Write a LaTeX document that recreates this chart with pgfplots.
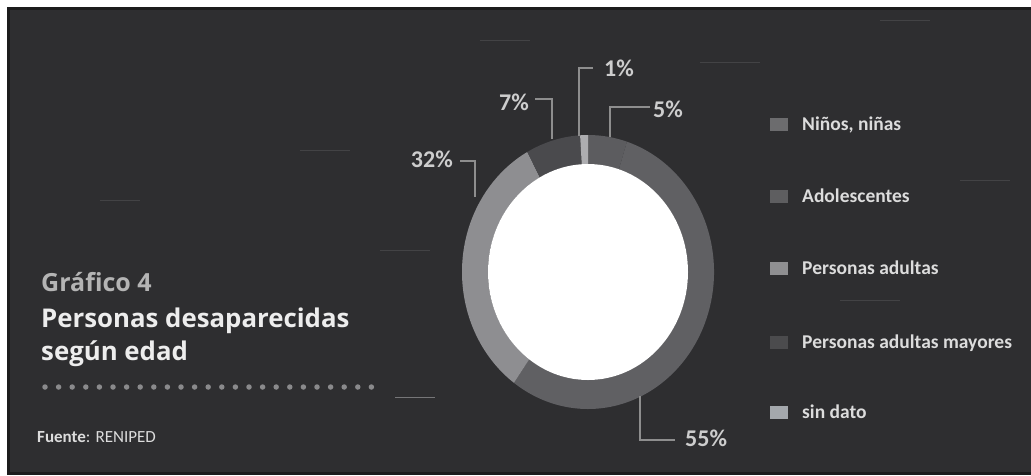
\documentclass[border=0pt]{standalone}
\usepackage{pgfplots}
\pgfplotsset{compat=1.18}
\usepackage{pgfplotstable}
\usepackage{fontspec}
\setmainfont{Carlito}
\newfontfamily\titlefont{Open Sans}

\definecolor{bg}{HTML}{2E2E30}
\definecolor{frame}{HTML}{1C1C1D}
\definecolor{rNin}{HTML}{5C5C5F}
\definecolor{rAdo}{HTML}{606063}
\definecolor{rAdu}{HTML}{8E8E91}
\definecolor{rMay}{HTML}{4A4A4D}
\definecolor{rSin}{HTML}{ADADB0}
\definecolor{lNin}{HTML}{6C6C6E}
\definecolor{lAdo}{HTML}{5E5E60}
\definecolor{lAdu}{HTML}{8F8F91}
\definecolor{lMay}{HTML}{4B4B4D}
\definecolor{lSin}{HTML}{A4A8AC}
\definecolor{legtext}{HTML}{DCDCDC}
\definecolor{pcttext}{HTML}{CDCDCD}
\definecolor{leader}{HTML}{8E8E8E}
\definecolor{titlegray}{HTML}{B4B4B4}
\definecolor{titlewhite}{HTML}{EDEDED}
\definecolor{dotc}{HTML}{8A8A8C}

% slices: share (%), ring colour, legend colour, legend row (px from top),
% label position (px) and label anchor
\pgfplotstableread[col sep=semicolon]{
label;value;ring;leg;row;lx;ly;anc
Niños, niñas;5;rNin;lNin;124;653;117;west
Adolescentes;55;rAdo;lAdo;196;685;446;west
Personas adultas;32;rAdu;lAdu;268;453;167;east
Personas adultas mayores;7;rMay;lMay;342;529;110;east
sin dato;1;rSin;lSin;412;604;76;west
}\slices

\begin{document}
\begin{tikzpicture}
\begin{axis}[
  scale only axis, width=1031pt, height=475pt,
  xmin=0, xmax=1031, ymin=0, ymax=475, y dir=reverse,
  axis lines=none, ticks=none, clip=false]

% background and frame
\fill[white] (axis cs:0,0) rectangle (axis cs:1031,475);
\fill[frame] (axis cs:7,7) rectangle (axis cs:1031,475);
\fill[bg] (axis cs:10,10) rectangle (axis cs:1031,472);

% faint scan streaks
\begin{scope}[draw=white, opacity=0.10, line width=1pt]
\draw (axis cs:480,40) -- (axis cs:530,40);
\draw (axis cs:700,62) -- (axis cs:760,62);
\draw (axis cs:880,20) -- (axis cs:930,20);
\draw (axis cs:300,150) -- (axis cs:350,150);
\draw (axis cs:380,250) -- (axis cs:430,250);
\draw (axis cs:840,300) -- (axis cs:900,300);
\draw (axis cs:100,200) -- (axis cs:140,200);
\draw (axis cs:960,180) -- (axis cs:1010,180);
\end{scope}
\draw[white, opacity=0.35, line width=1pt] (axis cs:395,397) -- (axis cs:435,397);
\draw[white, opacity=0.35, line width=1pt] (axis cs:655,199) -- (axis cs:695,199);

% donut ring
\def\astart{90}
\pgfplotsforeachungrouped \i in {0,...,4}{%
  \pgfplotstablegetelem{\i}{value}\of\slices \let\v\pgfplotsretval
  \pgfplotstablegetelem{\i}{ring}\of\slices \let\rc\pgfplotsretval
  \pgfmathsetmacro\aend{\astart-3.6*\v}%
  \edef\cmd{\noexpand\fill[\rc, shift={(axis cs:588,272)}]
    (\astart:126pt and 137pt)
    arc[start angle=\astart, end angle=\aend, x radius=126pt, y radius=137pt]
    -- (\aend:100pt and 108pt)
    arc[start angle=\aend, end angle=\astart, x radius=100pt, y radius=108pt]
    -- cycle;}%
  \cmd
  \let\astart\aend
}
\fill[white] (axis cs:588,272) ellipse [x radius=100pt, y radius=108pt];

% leader lines
\begin{scope}[draw=leader, line width=1.3pt]
\draw (axis cs:610,137) -- (axis cs:610,107) -- (axis cs:650,107);
\draw (axis cs:640,396) -- (axis cs:640,440) -- (axis cs:675,440);
\draw (axis cs:460,161) -- (axis cs:475,161) -- (axis cs:475,197);
\draw (axis cs:535,99) -- (axis cs:552,99) -- (axis cs:552,139);
\draw (axis cs:579,136) -- (axis cs:579,68) -- (axis cs:593,68);
\end{scope}

% percentage labels and legend
\pgfplotsforeachungrouped \i in {0,...,4}{%
  \pgfplotstablegetelem{\i}{value}\of\slices \let\v\pgfplotsretval
  \pgfplotstablegetelem{\i}{lx}\of\slices \let\lx\pgfplotsretval
  \pgfplotstablegetelem{\i}{ly}\of\slices \let\ly\pgfplotsretval
  \pgfplotstablegetelem{\i}{anc}\of\slices \let\an\pgfplotsretval
  \pgfplotstablegetelem{\i}{leg}\of\slices \let\lc\pgfplotsretval
  \pgfplotstablegetelem{\i}{row}\of\slices \let\r\pgfplotsretval
  \pgfplotstablegetelem{\i}{label}\of\slices \let\lab\pgfplotsretval
  \pgfmathsetmacro\ya{\r-6.5}%
  \pgfmathsetmacro\yb{\r+6.5}%
  \pgfmathsetmacro\yt{\r+6}%
  \edef\cmd{%
    \noexpand\node[anchor=base \an, inner sep=0pt, text=pcttext,
      font=\noexpand\bfseries\noexpand\fontsize{24}{28}\noexpand\selectfont]
      at (axis cs:\lx,\ly) {\v\noexpand\%};
    \noexpand\fill[\lc] (axis cs:770,\ya) rectangle (axis cs:788,\yb);
    \noexpand\node[anchor=base west, inner sep=0pt, text=legtext,
      font=\noexpand\bfseries\noexpand\fontsize{19.5}{22}\noexpand\selectfont]
      at (axis cs:802,\yt) {\lab};
  }%
  \cmd
}

% title block
\node[anchor=base west, inner sep=0pt, text=titlegray,
  font=\titlefont\bfseries\fontsize{25}{28}\selectfont]
  at (axis cs:41,291) {Gráfico 4};
\node[anchor=base west, inner sep=0pt, text=titlewhite,
  font=\titlefont\bfseries\fontsize{25.8}{28}\selectfont]
  at (axis cs:41,327) {Personas desaparecidas};
\node[anchor=base west, inner sep=0pt, text=titlewhite,
  font=\titlefont\bfseries\fontsize{25.8}{28}\selectfont]
  at (axis cs:41,360) {según edad};
\draw[dotc, line width=5.5pt, line cap=round, dash pattern=on 0pt off 13.6pt]
  (axis cs:45,387) -- (axis cs:372,387);
\node[anchor=base west, inner sep=0pt, text=legtext,
  font=\fontsize{17}{20}\selectfont]
  at (axis cs:37,442) {\textbf{Fuente}: RENIPED};

\end{axis}
\end{tikzpicture}
\end{document}
